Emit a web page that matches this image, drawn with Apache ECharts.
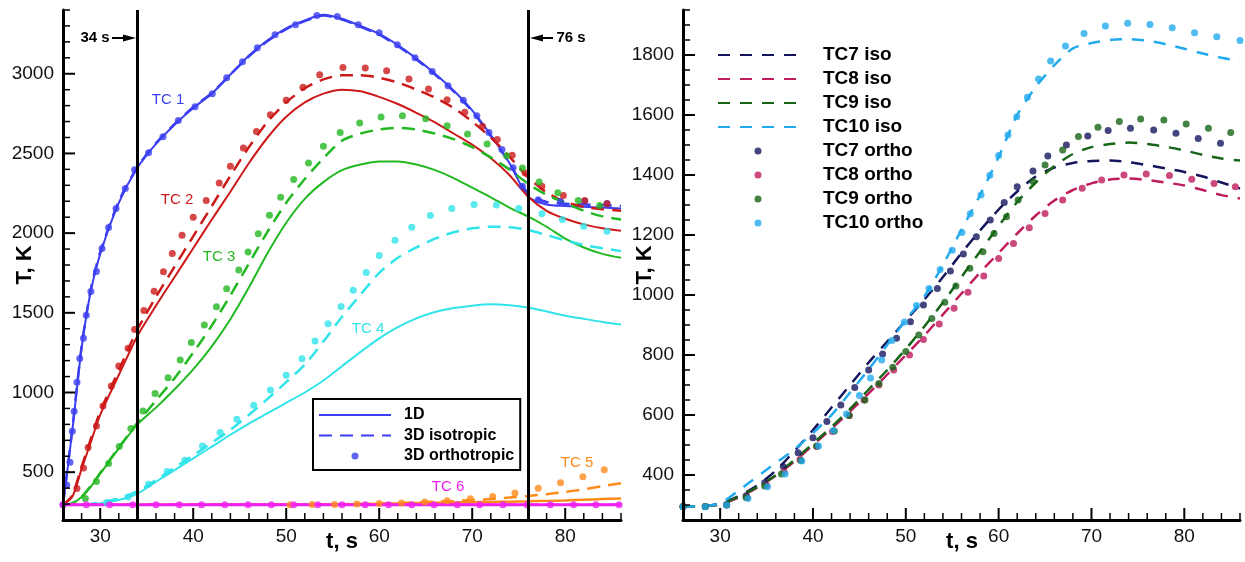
<!DOCTYPE html>
<html>
<head>
<meta charset="utf-8">
<script src="https://cdn.jsdelivr.net/npm/echarts@6/dist/echarts.min.js"></script>
<style>
  html, body { margin: 0; padding: 0; background: #fff; }
  #chart { width: 1245px; height: 562px; }
</style>
</head>
<body>
<div id="chart"></div>
<script>
// ---- data ----
const tLeft = [26, 27, 28, 29, 30, 32, 34, 36, 38, 40, 42, 44, 46, 48, 50, 52, 54, 56, 58, 60, 62, 64, 66, 68, 70, 72, 74, 76, 78, 80, 82, 84, 86]

const tc1Line = [295, 760, 1280, 1640, 1870, 2190, 2410, 2560, 2680, 2785, 2875, 2995, 3115, 3210, 3285, 3335, 3370, 3345, 3300, 3250, 3180, 3095, 3000, 2895, 2770, 2615, 2440, 2230, 2180, 2170, 2165, 2160, 2155]
const tc1Iso = [295, 770, 1290, 1650, 1880, 2200, 2415, 2565, 2685, 2790, 2880, 2995, 3110, 3205, 3280, 3330, 3365, 3340, 3295, 3245, 3175, 3090, 2995, 2890, 2765, 2610, 2440, 2250, 2195, 2185, 2180, 2175, 2170]
const tc2Line = [295, 345, 520, 690, 860, 1110, 1355, 1545, 1725, 1905, 2085, 2260, 2440, 2600, 2730, 2820, 2875, 2900, 2890, 2855, 2810, 2755, 2695, 2625, 2555, 2470, 2365, 2230, 2140, 2090, 2055, 2030, 2015]
const tc2Iso = [295, 355, 535, 710, 880, 1140, 1395, 1600, 1790, 1980, 2170, 2360, 2540, 2700, 2820, 2910, 2965, 2990, 2990, 2975, 2945, 2900, 2850, 2785, 2700, 2600, 2480, 2350, 2255, 2195, 2165, 2150, 2140]
const tc3Line = [295, 305, 345, 410, 490, 650, 800, 905, 1020, 1145, 1290, 1460, 1660, 1875, 2065, 2215, 2320, 2395, 2430, 2450, 2450, 2430, 2395, 2345, 2285, 2225, 2160, 2105, 2040, 1965, 1910, 1870, 1845]
const tc3Iso = [295, 305, 345, 415, 495, 655, 810, 950, 1090, 1250, 1420, 1610, 1810, 2010, 2190, 2340, 2470, 2580, 2625, 2650, 2660, 2650, 2625, 2590, 2540, 2475, 2400, 2310, 2240, 2190, 2140, 2105, 2085]
const tc4Line = [295, 295, 295, 298, 305, 325, 365, 440, 513, 587, 660, 735, 805, 870, 935, 1000, 1075, 1165, 1255, 1340, 1410, 1465, 1505, 1530, 1545, 1553, 1548, 1533, 1508, 1482, 1462, 1443, 1427]
const tc4Iso = [295, 295, 295, 300, 310, 335, 380, 450, 530, 605, 685, 765, 860, 960, 1065, 1175, 1320, 1475, 1615, 1750, 1845, 1910, 1965, 2005, 2030, 2040, 2037, 2020, 1988, 1955, 1925, 1905, 1887]
const tc5Line = [295, 295, 295, 295, 295, 295, 295, 295, 295, 295, 295, 295, 295, 295, 295, 296, 297, 298, 300, 302, 304, 306, 308, 310, 312, 313, 315, 317, 320, 323, 327, 331, 335]
const tc5Iso = [295, 295, 295, 295, 295, 295, 295, 295, 295, 295, 295, 295, 295, 295, 295, 296, 297, 299, 301, 304, 307, 311, 315, 320, 326, 332, 341, 351, 362, 376, 393, 412, 431]
const tc6Line = [295, 295, 295, 295, 295, 295, 295, 295, 295, 295, 295, 295, 295, 295, 295, 295, 295, 295, 295, 295, 295, 295, 295, 295, 295, 295, 295, 295, 295, 295, 295, 295, 295]
const tc6Iso = [295, 295, 295, 295, 295, 295, 295, 295, 295, 295, 295, 295, 295, 295, 295, 295, 295, 295, 295, 295, 295, 295, 295, 295, 295, 295, 295, 295, 295, 295, 295, 295, 295]

// orthotropic points [t, T]
const tc1Ortho = [[26, 295], [26.4, 419], [26.75, 563], [27.0, 757], [27.2, 882], [27.5, 1064], [27.8, 1214], [28.2, 1340], [28.5, 1484], [29.0, 1634], [29.6, 1759], [30.2, 1903], [30.9, 2035], [31.7, 2154], [32.7, 2280], [33.7, 2398], [35.2, 2505], [36.75, 2605], [38.4, 2706], [40.2, 2793], [42.05, 2875], [43.6, 2975], [45.3, 3075], [46.9, 3163], [48.8, 3244], [51.0, 3307], [53.3, 3365], [55.5, 3359], [57.75, 3307], [60.0, 3257], [61.95, 3182], [63.85, 3100], [65.7, 3014], [67.4, 2925], [69.05, 2833], [70.5, 2737], [71.8, 2632], [73.2, 2524], [74.4, 2410], [75.4, 2294], [77.1, 2210], [79.5, 2198], [82.1, 2200], [84.5, 2186]]
const tc2Ortho = [[27.5, 398], [28.2, 527], [28.7, 655], [29.6, 790], [30.3, 915], [31.2, 1041], [32.0, 1166], [33.0, 1277], [33.7, 1396], [34.7, 1515], [35.8, 1636], [36.8, 1758], [37.75, 1872], [38.8, 1987], [40.0, 2100], [41.4, 2205], [42.8, 2315], [44.0, 2420], [45.4, 2534], [46.8, 2638], [48.3, 2743], [50.0, 2833], [51.8, 2916], [53.6, 2994], [56.1, 3040], [58.5, 3036], [60.8, 3019], [63.2, 2967], [65.3, 2904], [67.3, 2837], [69.2, 2758], [71.1, 2670], [72.7, 2587], [74.3, 2488], [75.7, 2378], [77.5, 2294], [79.8, 2236], [82.1, 2204], [84.5, 2185]]
const tc3Ortho = [[28.4, 335], [29.6, 441], [30.9, 554], [32.05, 661], [33.3, 774], [34.6, 884], [35.9, 993], [37.3, 1093], [38.6, 1204], [39.8, 1313], [41.2, 1423], [42.5, 1538], [43.6, 1651], [44.9, 1768], [45.9, 1881], [47.0, 1996], [48.2, 2112], [49.4, 2225], [50.8, 2336], [52.4, 2440], [54.0, 2545], [55.8, 2632], [57.9, 2691], [60.2, 2729], [62.5, 2737], [65.0, 2718], [67.3, 2674], [69.5, 2622], [71.6, 2560], [73.7, 2486], [75.4, 2409], [77.2, 2321], [79.2, 2253], [81.4, 2204], [83.7, 2173]]
const tc4Ortho = [[30.7, 310], [33.0, 345], [35.2, 425], [37.2, 504], [39.1, 575], [41.0, 665], [42.9, 749], [44.7, 832], [46.5, 920], [48.3, 1016], [50.0, 1108], [51.7, 1212], [53.1, 1323], [54.5, 1432], [55.9, 1540], [57.2, 1642], [58.6, 1753], [60.0, 1860], [61.7, 1956], [63.5, 2037], [65.5, 2110], [67.8, 2154], [70.2, 2179], [72.6, 2177], [75.0, 2154], [77.5, 2121], [79.7, 2085], [82.0, 2043], [84.5, 2012]]
const tc5Ortho = [[50.4, 296], [52.8, 297], [55.2, 298], [57.6, 300], [60.0, 303], [62.4, 307], [64.9, 313], [67.3, 321], [69.8, 333], [72.2, 347], [74.6, 370], [77.1, 399], [79.5, 434], [81.9, 472], [84.2, 515]]
const tc6Ortho = [[26.0, 295], [28.5, 295], [31.0, 295], [33.5, 295], [36.0, 295], [38.5, 295], [40.9, 295], [43.4, 295], [45.9, 295], [48.4, 295], [50.8, 295], [53.4, 295], [56.0, 295], [58.5, 295], [61.0, 295], [63.5, 295], [65.9, 295], [68.4, 295], [70.8, 295], [73.3, 295], [75.9, 295], [78.4, 295], [80.9, 295], [83.3, 295], [85.8, 295]]

const tRight = [26, 28, 30, 32, 34, 36, 38, 40, 42, 44, 46, 48, 50, 52, 54, 56, 58, 60, 62, 64, 66, 68, 70, 72, 74, 76, 78, 80, 82, 84, 86]
const tc7Iso = [295, 296, 305, 330, 365, 415, 480, 550, 625, 700, 775, 845, 915, 985, 1060, 1140, 1215, 1285, 1345, 1395, 1425, 1440, 1447, 1448, 1443, 1433, 1422, 1410, 1395, 1375, 1355]
const tc8Iso = [295, 296, 302, 325, 358, 398, 445, 500, 555, 612, 672, 735, 800, 865, 935, 1005, 1075, 1140, 1205, 1265, 1315, 1350, 1372, 1385, 1388, 1383, 1375, 1365, 1350, 1333, 1322]
const tc9Iso = [295, 296, 303, 328, 360, 400, 450, 505, 560, 620, 685, 750, 820, 895, 975, 1060, 1145, 1230, 1310, 1375, 1430, 1470, 1493, 1503, 1508, 1503, 1494, 1482, 1467, 1455, 1448]
const tc10Iso = [295, 296, 306, 348, 395, 440, 485, 540, 600, 675, 752, 834, 917, 995, 1100, 1218, 1333, 1460, 1600, 1694, 1766, 1822, 1840, 1850, 1853, 1848, 1836, 1821, 1805, 1791, 1780]

const tc7Ortho = [[26, 295], [28.4, 295], [30.7, 302], [32.8, 331], [34.8, 374], [36.8, 428], [38.4, 474], [40.0, 524], [41.5, 578], [43.0, 633], [44.5, 692], [46.0, 750], [47.5, 803], [49.0, 856], [50.5, 911], [51.9, 967], [53.4, 1022], [54.8, 1080], [56.2, 1137], [57.6, 1194], [59.1, 1250], [60.6, 1308], [62.0, 1361], [63.7, 1413], [65.3, 1463], [67.3, 1500], [69.6, 1530], [71.8, 1548], [74.2, 1556], [76.7, 1550], [79.1, 1539], [81.5, 1522], [83.9, 1506]]
const tc8Ortho = [[26, 295], [28.4, 295], [30.7, 300], [32.9, 326], [35.0, 366], [36.9, 410], [38.6, 452], [40.4, 495], [42.1, 545], [43.9, 598], [45.5, 650], [47.1, 700], [48.7, 750], [50.4, 800], [51.9, 852], [53.6, 903], [55.2, 956], [56.7, 1009], [58.4, 1063], [60.0, 1122], [61.6, 1172], [63.3, 1224], [65.0, 1272], [66.9, 1317], [69.0, 1356], [71.1, 1383], [73.5, 1400], [75.9, 1403], [78.4, 1398], [80.8, 1386], [83.2, 1372], [85.5, 1361]]
const tc9Ortho = [[26, 295], [28.4, 295], [30.7, 300], [32.8, 325], [34.8, 363], [36.6, 403], [38.7, 448], [40.4, 497], [42.3, 547], [43.9, 598], [45.6, 650], [47.1, 705], [48.6, 759], [50.0, 812], [51.4, 867], [52.8, 922], [54.2, 976], [55.4, 1030], [56.9, 1089], [58.3, 1144], [59.5, 1205], [60.85, 1261], [62.1, 1317], [63.7, 1378], [65.0, 1433], [66.9, 1483], [68.6, 1528], [70.7, 1559], [73.0, 1578], [75.3, 1587], [77.8, 1583], [80.2, 1570], [82.6, 1556], [85.0, 1542]]
const tc10Ortho = [[26, 294], [28.4, 294], [30.7, 300], [33.0, 322], [35.1, 361], [37.0, 403], [38.8, 447], [40.6, 497], [42.2, 548], [43.6, 603], [45.0, 665], [46.2, 723], [47.4, 783], [48.5, 848], [49.85, 910], [51.15, 965], [52.5, 1022], [53.7, 1085], [55.0, 1149], [56.05, 1208], [56.95, 1271], [58.1, 1333], [59.05, 1399], [60.0, 1465], [61.0, 1533], [61.95, 1594], [63.1, 1659], [64.3, 1720], [65.6, 1780], [67.2, 1830], [69.2, 1872], [71.5, 1897], [73.9, 1906], [76.3, 1902], [78.7, 1891], [81.1, 1874], [83.5, 1861], [86.0, 1848]]

// ticks / markers
const xMajorTicks = [30, 40, 50, 60, 70, 80]
const yLeftMajorTicks = [500, 1000, 1500, 2000, 2500, 3000]
const yRightMajorTicks = [400, 600, 800, 1000, 1200, 1400, 1600, 1800]
const markTimes = [34, 76]

// ---- styles ----
const FONT = '"Liberation Sans", Arial, sans-serif'
const C = {
  tc1: '#3b3ef0', tc2: '#cc1a1a', tc3: '#22b822', tc4: '#30e4ea', tc5: '#ff8a1a', tc6: '#f020f0',
  tc7: '#15155e', tc8: '#bf1c5e', tc9: '#166416', tc10: '#22aaee'
}

const chart = echarts.init(document.getElementById('chart'))

const lineS = (name, ts, vals, color, ax, dash, width) => ({
  name,
  type: 'line',
  xAxisIndex: ax,
  yAxisIndex: ax,
  data: ts.map((t, i) => [t, vals[i]]),
  symbol: 'none',
  smooth: 0.25,
  lineStyle: { color, width, type: dash || 'solid' },
  itemStyle: { color },
  silent: true,
  z: 2
})

const dotS = (name, pts, color, ax) => ({
  name,
  type: 'scatter',
  xAxisIndex: ax,
  yAxisIndex: ax,
  data: pts,
  symbol: 'circle',
  symbolSize: 7,
  itemStyle: { color },
  silent: true,
  z: 3
})

const dashL = [13, 8]
const dashR = [12, 10]

const series = [
  lineS('1D', tLeft, tc1Line, C.tc1, 0, null, 2),
  lineS('3D isotropic', tLeft, tc1Iso, C.tc1, 0, dashL, 2.5),
  dotS('3D orthotropic', tc1Ortho, C.tc1, 0),
  lineS('TC2 1D', tLeft, tc2Line, C.tc2, 0, null, 2),
  lineS('TC2 iso', tLeft, tc2Iso, C.tc2, 0, dashL, 2.5),
  dotS('TC2 ortho', tc2Ortho, C.tc2, 0),
  lineS('TC3 1D', tLeft, tc3Line, C.tc3, 0, null, 2),
  lineS('TC3 iso', tLeft, tc3Iso, C.tc3, 0, dashL, 2.5),
  dotS('TC3 ortho', tc3Ortho, C.tc3, 0),
  lineS('TC4 1D', tLeft, tc4Line, C.tc4, 0, null, 2),
  lineS('TC4 iso', tLeft, tc4Iso, C.tc4, 0, dashL, 2.5),
  dotS('TC4 ortho', tc4Ortho, C.tc4, 0),
  lineS('TC5 1D', tLeft, tc5Line, C.tc5, 0, null, 2.5),
  lineS('TC5 iso', tLeft, tc5Iso, C.tc5, 0, dashL, 2.5),
  dotS('TC5 ortho', tc5Ortho, C.tc5, 0),
  lineS('TC6 iso', tLeft, tc6Iso, C.tc6, 0, dashL, 2.5),
  Object.assign(lineS('TC6 1D', tLeft, tc6Line, C.tc6, 0, null, 3), {
    markLine: {
      silent: true,
      symbol: ['none', 'none'],
      label: { show: false },
      lineStyle: { color: '#000', width: 3, type: 'solid' },
      data: markTimes.map(t => ({ xAxis: t }))
    }
  }),
  dotS('TC6 ortho', tc6Ortho, C.tc6, 0),

  lineS('TC7 iso', tRight, tc7Iso, C.tc7, 1, dashR, 2.5),
  lineS('TC8 iso', tRight, tc8Iso, C.tc8, 1, dashR, 2.5),
  lineS('TC9 iso', tRight, tc9Iso, C.tc9, 1, dashR, 2.5),
  lineS('TC10 iso', tRight, tc10Iso, C.tc10, 1, dashR, 2.5),
  dotS('TC7 ortho', tc7Ortho, C.tc7, 1),
  dotS('TC8 ortho', tc8Ortho, C.tc8, 1),
  dotS('TC9 ortho', tc9Ortho, C.tc9, 1),
  dotS('TC10 ortho', tc10Ortho, C.tc10, 1)
]

const labelStyle = { color: '#111', fontSize: 19, fontFamily: FONT }

// panel frames (pixels) and axis ranges
const panels = [
  { grid: 0, left: 63, top: 10, width: 558, height: 510, xMin: 26, xMax: 86, xStep: 2, yMin: 200, yMax: 3400, yStep: 100, yMajors: yLeftMajorTicks },
  { grid: 1, left: 683, top: 10, width: 557, height: 510, xMin: 26, xMax: 86, xStep: 2, yMin: 250, yMax: 1950, yStep: 50, yMajors: yRightMajorTicks }
]

const xAx = p => ({
  type: 'value', gridIndex: p.grid, position: 'bottom', min: p.xMin, max: p.xMax, interval: p.xStep, z: 10,
  axisLine: { show: true, onZero: false, lineStyle: { color: '#000', width: 3 } },
  axisTick: { show: false },
  axisLabel: Object.assign({ margin: 7, formatter: v => xMajorTicks.includes(v) ? String(v) : '' }, labelStyle),
  splitLine: { show: false }
})
const yAx = p => ({
  type: 'value', gridIndex: p.grid, position: 'left', min: p.yMin, max: p.yMax, interval: p.yStep, z: 10,
  axisLine: { show: true, onZero: false, lineStyle: { color: '#000', width: 3 } },
  axisTick: { show: false },
  axisLabel: Object.assign({ margin: 9, formatter: v => p.yMajors.includes(v) ? String(v) : '' }, labelStyle),
  splitLine: { show: false }
})

const txt = (text, x, y, color, size, bold, rotation) => ({
  type: 'text', x, y, rotation: rotation || 0, silent: true, z: 100,
  style: { text, fill: color, font: (bold ? 'bold ' : '') + size + 'px ' + FONT, align: 'center', verticalAlign: 'middle' }
})

// line entries in a legend: hide the marker symbol, keep the line sample
const lineItem = name => ({ name, itemStyle: { opacity: 0 } })

const annotations = [
  // axis titles
  txt('t, s', 342, 542, '#000', 22, true),
  txt('t, s', 962, 542, '#000', 22, true),
  txt('T, K', 25, 265, '#000', 22, true, Math.PI / 2),
  txt('T, K', 645, 265, '#000', 22, true, Math.PI / 2),
  // curve labels
  txt('TC 1', 168, 100, C.tc1, 15),
  txt('TC 2', 177, 200, C.tc2, 15),
  txt('TC 3', 219, 257, C.tc3, 15),
  txt('TC 4', 368, 329, C.tc4, 15),
  txt('TC 5', 577, 463, C.tc5, 15),
  txt('TC 6', 448, 487, C.tc6, 15),
  // time markers
  txt('34 s', 95, 38, '#000', 15, true),
  { type: 'line', silent: true, z: 100, shape: { x1: 112, y1: 38, x2: 127, y2: 38 }, style: { stroke: '#000', lineWidth: 2 } },
  { type: 'polygon', silent: true, z: 100, shape: { points: [[136, 38], [123, 34.5], [123, 41.5]] }, style: { fill: '#000' } },
  txt('76 s', 571, 38, '#000', 15, true),
  { type: 'line', silent: true, z: 100, shape: { x1: 538, y1: 38, x2: 553, y2: 38 }, style: { stroke: '#000', lineWidth: 2 } },
  { type: 'polygon', silent: true, z: 100, shape: { points: [[530, 38], [543, 34.5], [543, 41.5]] }, style: { fill: '#000' } }
]

// inward axis ticks (long at labelled values), laid out on the panel frames
const ticks = []
const tick = (x1, y1, x2, y2, major) => ticks.push({
  type: 'line', silent: true, z: 100,
  shape: { x1, y1, x2, y2 },
  style: { stroke: '#000', lineWidth: major ? 2 : 1.5 }
})
panels.forEach(p => {
  const bottom = p.top + p.height
  for (let t = p.xMin + p.xStep; t <= p.xMax; t += p.xStep) {
    const x = p.left + (t - p.xMin) / (p.xMax - p.xMin) * p.width
    const major = xMajorTicks.includes(t)
    tick(x, bottom, x, bottom - (major ? 12 : 7), major)
  }
  for (let v = p.yMin + p.yStep; v <= p.yMax; v += p.yStep) {
    const y = bottom - (v - p.yMin) / (p.yMax - p.yMin) * p.height
    const major = p.yMajors.includes(v)
    tick(p.left, y, p.left + (major ? 12 : 7), y, major)
  }
})

const option = {
  animation: false,
  backgroundColor: '#fff',
  grid: panels.map(p => ({ left: p.left, top: p.top, width: p.width, height: p.height })),
  xAxis: panels.map(xAx),
  yAxis: panels.map(yAx),
  legend: [
    {
      data: [lineItem('1D'), lineItem('3D isotropic'), '3D orthotropic'],
      orient: 'vertical', left: 313, top: 399,
      itemWidth: 72, itemHeight: 7, itemGap: 4.5,
      padding: [8, 6, 6, 5],
      borderColor: '#000', borderWidth: 2,
      selectedMode: false,
      textStyle: { fontFamily: FONT, fontWeight: 'bold', fontSize: 16, color: '#000', lineHeight: 15, padding: [0, 0, 0, 8] }
    },
    {
      data: [lineItem('TC7 iso'), lineItem('TC8 iso'), lineItem('TC9 iso'), lineItem('TC10 iso'), 'TC7 ortho', 'TC8 ortho', 'TC9 ortho', 'TC10 ortho'],
      orient: 'vertical', left: 717, top: 45,
      itemWidth: 80, itemHeight: 7, itemGap: 4,
      padding: 0,
      selectedMode: false,
      textStyle: { fontFamily: FONT, fontWeight: 'bold', fontSize: 19, color: '#000', lineHeight: 20, padding: [0, 0, 0, 20] }
    }
  ],
  graphic: annotations.concat(ticks),
  series
}

chart.setOption(option)
</script>
</body>
</html>
